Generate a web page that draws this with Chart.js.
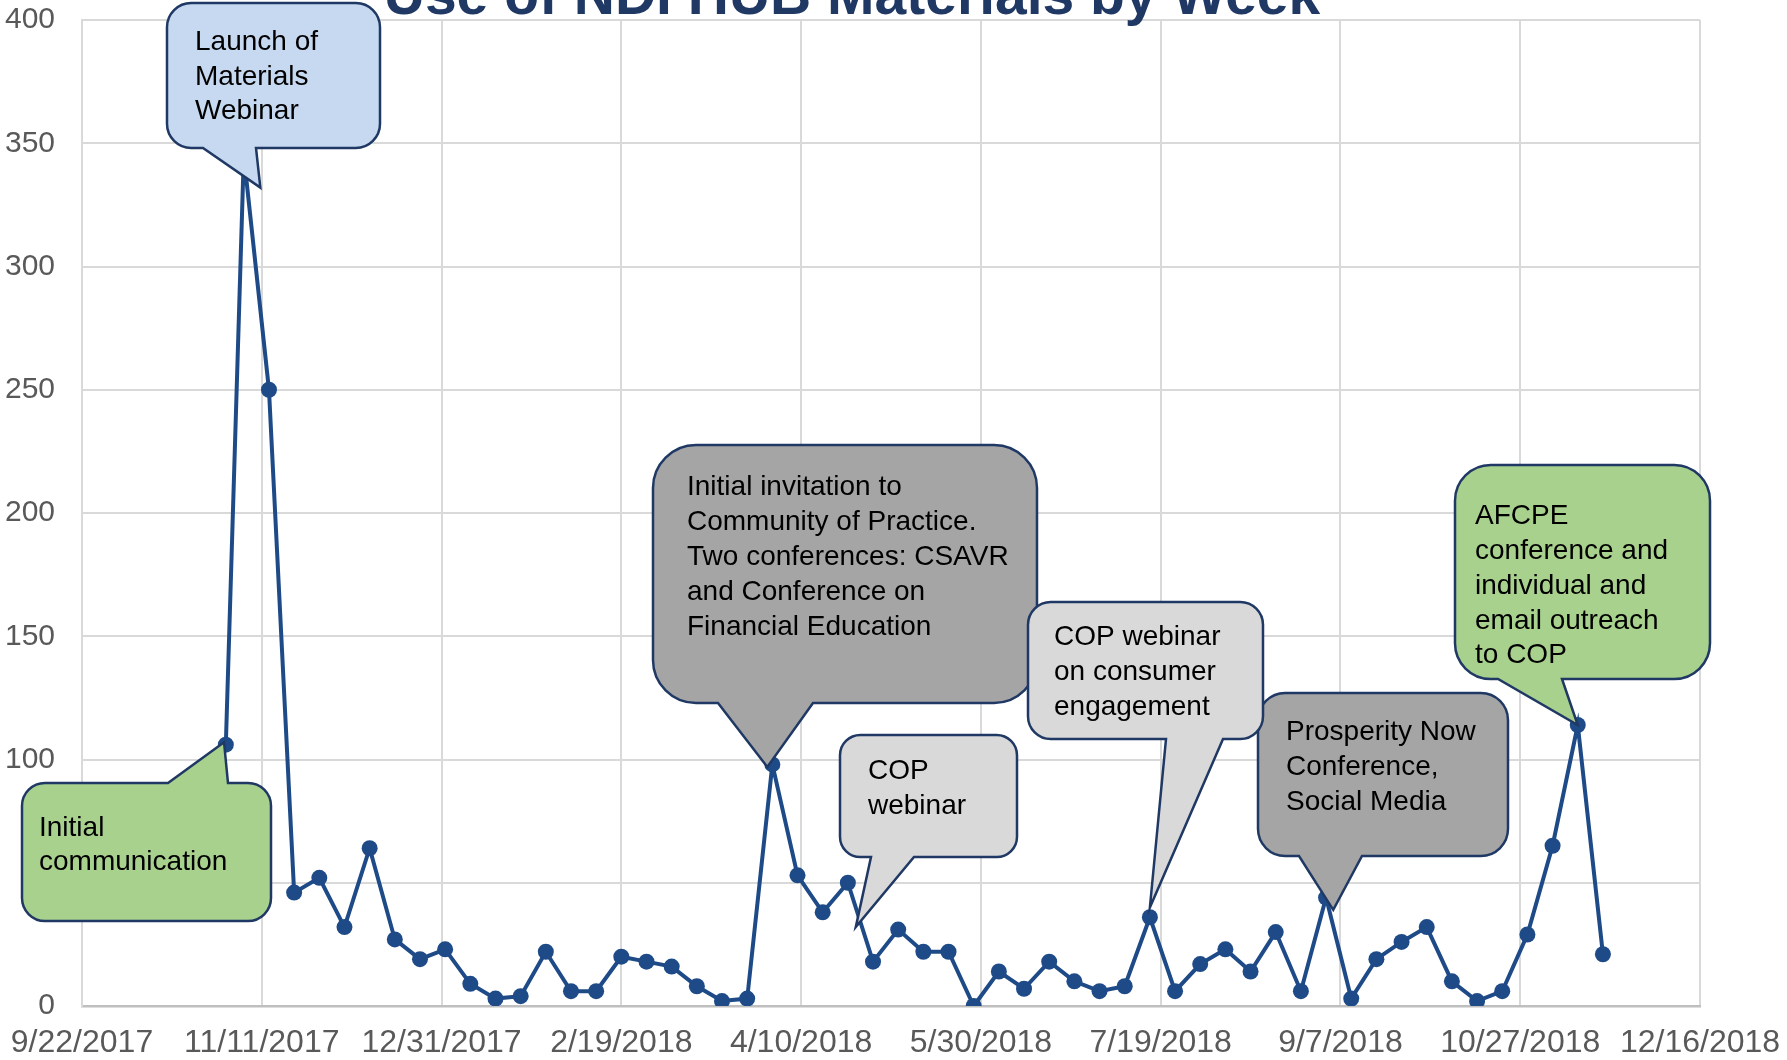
<!DOCTYPE html>
<html>
<head>
<meta charset="utf-8">
<title>Use of NDI HUB Materials by Week</title>
<script src="https://cdn.jsdelivr.net/npm/chart.js@4/dist/chart.umd.min.js"></script>
<style>
  html, body { margin: 0; padding: 0; background: #fff; }
  #wrap { width: 1787px; height: 1060px; position: relative; }
</style>
</head>
<body>
<div id="wrap"><canvas id="weekly-chart"></canvas></div>
<script>
// weekly usage
const weekDates = [
    '11/1/2017', '11/6/2017', '11/13/2017', '11/20/2017', '11/27/2017',
    '12/4/2017', '12/11/2017', '12/18/2017', '12/25/2017',
    '1/1/2018', '1/8/2018', '1/15/2018', '1/22/2018', '1/29/2018',
    '2/5/2018', '2/12/2018', '2/19/2018', '2/26/2018',
    '3/5/2018', '3/12/2018', '3/19/2018', '3/26/2018',
    '4/2/2018', '4/9/2018', '4/16/2018', '4/23/2018', '4/30/2018',
    '5/7/2018', '5/14/2018', '5/21/2018', '5/28/2018',
    '6/4/2018', '6/11/2018', '6/18/2018', '6/25/2018',
    '7/2/2018', '7/9/2018', '7/16/2018', '7/23/2018', '7/30/2018',
    '8/6/2018', '8/13/2018', '8/20/2018', '8/27/2018',
    '9/3/2018', '9/10/2018', '9/17/2018', '9/24/2018',
    '10/1/2018', '10/8/2018', '10/15/2018', '10/22/2018', '10/29/2018',
    '11/5/2018', '11/12/2018', '11/19/2018'
];
const weeklyUses = [
    106, 345, 250, 46, 52,
    32, 64, 27, 19,
    23, 9, 3, 4, 22,
    6, 6, 20, 18,
    16, 8, 2, 3,
    98, 53, 38, 50, 18,
    31, 22, 22, 0,
    14, 7, 18, 10,
    6, 8, 36, 6, 17,
    23, 14, 30, 6,
    44, 3, 19, 26,
    32, 10, 2, 6, 29,
    65, 114, 21
];

// axis ranges
const xAxisFirst = '9/22/2017';
const xAxisLast = '12/16/2018';
const xTickDays = 50;
const yAxisMax = 400;
const yTickStep = 50;

const chartTitle = 'Use of NDI HUB Materials by Week';

// callouts: box in canvas pixels, tip in chart values
const callouts = [
    { lines: ['Launch of', 'Materials', 'Webinar'], fill: '#C6D9F1',
      box: [167, 3, 213, 145], side: 'bottom', base: [203, 256], tip: [43049.6, 332],
      textX: 195, baselines: [50, 84.5, 119] },
    { lines: ['Initial', 'communication'], fill: '#A9D18E',
      box: [22, 783, 249, 138], side: 'top', base: [168, 228], tip: [43039.5, 107],
      textX: 39, baselines: [836, 870] },
    { lines: ['Initial invitation to', 'Community of Practice.', 'Two conferences: CSAVR', 'and Conference on', 'Financial Education'],
      fill: '#A5A5A5',
      box: [653, 445, 384, 258], side: 'bottom', base: [718, 813], tip: [43190.6, 97],
      textX: 687, baselines: [495, 530, 565, 600, 635] },
    { lines: ['Prosperity Now', 'Conference,', 'Social Media'], fill: '#A5A5A5',
      box: [1258, 693, 250, 163], side: 'bottom', base: [1299, 1362], tip: [43348, 39],
      textX: 1286, baselines: [740, 775, 810] },
    { lines: ['COP', 'webinar'], fill: '#D9D9D9',
      box: [840, 735, 177, 122], side: 'bottom', base: [871, 914], tip: [43215.2, 32],
      textX: 868, baselines: [779, 814] },
    { lines: ['COP webinar', 'on consumer', 'engagement'], fill: '#D9D9D9',
      box: [1028, 602, 235, 137], side: 'bottom', base: [1166, 1223], tip: [43297, 40],
      textX: 1054, baselines: [645, 680, 715] },
    { lines: ['AFCPE', 'conference and', 'individual and', 'email outreach', 'to COP'], fill: '#A9D18E',
      box: [1455, 465, 255, 214], side: 'bottom', base: [1498, 1562], tip: [43416, 114],
      textX: 1475, baselines: [524, 559, 594, 629, 663] }
];

const DAY_MS = 86400000;
const EXCEL_EPOCH = Date.UTC(1899, 11, 30);

function toSerial(str) {
    const parts = str.split('/').map(Number);
    return (Date.UTC(parts[2], parts[0] - 1, parts[1]) - EXCEL_EPOCH) / DAY_MS;
}

function fromSerial(v) {
    const dt = new Date(EXCEL_EPOCH + Math.round(v) * DAY_MS);
    return (dt.getUTCMonth() + 1) + '/' + dt.getUTCDate() + '/' + dt.getUTCFullYear();
}

function calloutPath(ctx, c, tipPx) {
    const [x, y, w, h] = c.box;
    const r = Math.min(w, h) * 0.1667;
    ctx.beginPath();
    ctx.moveTo(x + r, y);
    if (c.side === 'top') {
        ctx.lineTo(c.base[0], y);
        ctx.lineTo(tipPx.x, tipPx.y);
        ctx.lineTo(c.base[1], y);
    }
    ctx.lineTo(x + w - r, y);
    ctx.arcTo(x + w, y, x + w, y + r, r);
    ctx.lineTo(x + w, y + h - r);
    ctx.arcTo(x + w, y + h, x + w - r, y + h, r);
    if (c.side === 'bottom') {
        ctx.lineTo(c.base[1], y + h);
        ctx.lineTo(tipPx.x, tipPx.y);
        ctx.lineTo(c.base[0], y + h);
    }
    ctx.lineTo(x + r, y + h);
    ctx.arcTo(x, y + h, x, y + h - r, r);
    ctx.lineTo(x, y + r);
    ctx.arcTo(x, y, x + r, y, r);
    ctx.closePath();
}

const calloutPlugin = {
    id: 'callouts',
    afterDatasetsDraw(chart) {
        const ctx = chart.ctx;
        const xs = chart.scales.x;
        const ys = chart.scales.y;
        ctx.save();
        callouts.forEach(function(c) {
            const tipPx = { x: xs.getPixelForValue(c.tip[0]), y: ys.getPixelForValue(c.tip[1]) };
            calloutPath(ctx, c, tipPx);
            ctx.fillStyle = c.fill;
            ctx.fill();
            ctx.lineWidth = 2.5;
            ctx.strokeStyle = '#1F3864';
            ctx.lineJoin = 'miter';
            ctx.stroke();
            ctx.fillStyle = '#000000';
            ctx.font = '28px "Liberation Sans", Arial, sans-serif';
            ctx.textAlign = 'left';
            ctx.textBaseline = 'alphabetic';
            c.lines.forEach(function(line, i) {
                ctx.fillText(line, c.textX, c.baselines[i]);
            });
        });
        ctx.restore();
    },
    afterDraw(chart) {
        const ctx = chart.ctx;
        ctx.save();
        ctx.fillStyle = '#1F3864';
        ctx.font = 'bold 57px "Liberation Sans", Arial, sans-serif';
        ctx.textAlign = 'center';
        ctx.textBaseline = 'alphabetic';
        ctx.fillText(chartTitle, 852, 14);
        ctx.restore();
    }
};

const points = weekDates.map(function(d, i) {
    return { x: toSerial(d), y: weeklyUses[i] };
});

const fontFamily = '"Liberation Sans", Arial, sans-serif';

new Chart(document.getElementById('weekly-chart'), {
    type: 'line',
    data: {
        datasets: [{
            label: 'Weekly uses',
            data: points,
            borderColor: '#1E4B87',
            backgroundColor: '#1E4B87',
            borderWidth: 4,
            pointRadius: 8,
            pointBorderWidth: 0,
            pointBackgroundColor: '#1E4B87',
            tension: 0,
            fill: false
        }]
    },
    options: {
        responsive: true,
        maintainAspectRatio: false,
        animation: false,
        devicePixelRatio: 1,
        layout: { padding: { top: 20, right: 87, left: 0, bottom: 0 } },
        plugins: {
            legend: { display: false },
            tooltip: { enabled: false },
            title: { display: false }
        },
        scales: {
            x: {
                type: 'linear',
                min: toSerial(xAxisFirst),
                max: toSerial(xAxisLast),
                grid: { color: '#D9D9D9', lineWidth: 2, drawTicks: false },
                border: { color: '#BFBFBF', width: 2.5 },
                ticks: {
                    stepSize: xTickDays,
                    autoSkip: false,
                    maxRotation: 0,
                    padding: 18,
                    color: '#595959',
                    font: { family: fontFamily, size: 32 },
                    callback: function(v) { return fromSerial(v); }
                },
                afterFit: function(scale) {
                    scale.height = 54;
                    scale.paddingLeft = 0;
                    scale.paddingRight = 0;
                }
            },
            y: {
                min: 0,
                max: yAxisMax,
                grid: { color: '#D9D9D9', lineWidth: 2, drawTicks: false },
                border: { color: '#D9D9D9', width: 2 },
                ticks: {
                    stepSize: yTickStep,
                    padding: 27,
                    color: '#595959',
                    font: { family: fontFamily, size: 30 }
                },
                afterFit: function(scale) {
                    scale.width = 82;
                    scale.paddingTop = 0;
                    scale.paddingBottom = 0;
                }
            }
        }
    },
    plugins: [calloutPlugin]
});
</script>
</body>
</html>
